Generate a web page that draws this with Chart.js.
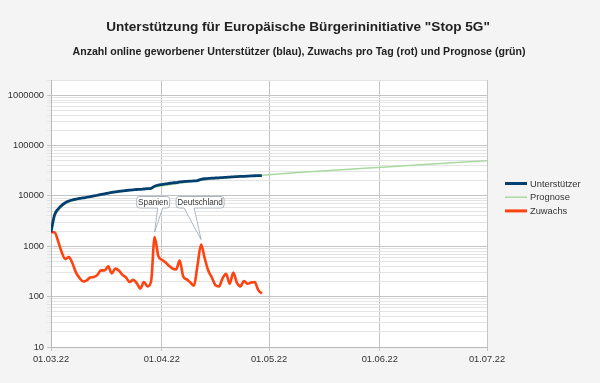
<!DOCTYPE html>
<html><head><meta charset="utf-8">
<script src="https://cdn.jsdelivr.net/npm/chart.js@4/dist/chart.umd.min.js"></script>
<style>html,body{margin:0;padding:0;background:#f4f4f4;}#wrap{width:600px;height:383px;position:relative;}</style>
</head><body><div id="wrap"><canvas id="c" width="600" height="383"></canvas></div>
<script>
const titleText = 'Unterstützung für Europäische Bürgerininitiative "Stop 5G"';
const subtitleText = 'Anzahl online geworbener Unterstützer (blau), Zuwachs pro Tag (rot) und Prognose (grün)';
const seriesNames = ['Unterstützer', 'Prognose', 'Zuwachs'];
const tickDays = [0, 31, 61, 92, 122];
const tickLabels = ['01.03.22', '01.04.22', '01.05.22', '01.06.22', '01.07.22'];
const days = [0,1,2,3,4,5,6,7,8,9,10,11,12,13,14,15,16,17,18,19,20,21,22,23,24,25,26,27,28,29,30,31,32,33,34,35,36,37,38,39,40,41,42,43,44,45,46,47,48,49,50,51,52,53,54,55,56,57,58,59];
const unterstuetzer = [1900,4200,5500,6500,7300,7900,8300,8600,8900,9100,9400,9700,10000,10300,10700,11000,11400,11700,12000,12300,12600,12800,13000,13200,13400,13500,13700,13900,14100,15600,16300,16800,17300,17700,18100,18400,18900,19200,19400,19600,19800,20200,21300,21900,22200,22500,22700,22900,23100,23400,23600,23900,24100,24300,24500,24700,24900,25100,25200,25300];
const zuwachs = [1900,1900,1250,760,560,610,460,300,235,200,210,240,245,270,335,330,400,290,360,330,270,240,195,215,185,145,195,160,200,1530,650,540,480,410,360,345,520,250,220,190,165,420,1080,580,330,240,170,160,230,285,180,300,190,160,205,180,190,195,135,115];
const prognoseDays = [1,3,7,14,21,28,35,42,50,59,70,80,90,100,110,122];
const prognose = [4000,6200,8400,10500,12500,14500,17500,20500,23300,25800,29400,32600,36100,40000,44400,50100];
const annotationLabels = ['Spanien', 'Deutschland'];
const annotationDays = [29, 42];

const yMin = 10, yMax = 2000000;
const colBlue = '#03406f', colGreen = '#a9d9a0', colRed = '#ff420e';
const FONT = '"Liberation Sans", Arial, sans-serif';

const pts = (xs, ys) => xs.map((x, i) => ({x: x, y: ys[i]}));

const bgPlugin = {
  id: 'bg',
  beforeDraw(chart) {
    const ctx = chart.ctx, a = chart.chartArea;
    ctx.save();
    ctx.fillStyle = '#f4f4f4';
    ctx.fillRect(0, 0, chart.width, chart.height);
    ctx.fillStyle = '#ffffff';
    ctx.fillRect(a.left, a.top, a.right - a.left, a.bottom - a.top);
    ctx.restore();
  }
};

const decoPlugin = {
  id: 'deco',
  afterDraw(chart) {
    const ctx = chart.ctx;
    ctx.save();
    ctx.fillStyle = '#222';
    ctx.textAlign = 'center';
    ctx.textBaseline = 'middle';
    ctx.font = 'bold 13.6px ' + FONT;
    ctx.fillText(titleText, 298, 27);
    ctx.font = 'bold 10.6px ' + FONT;
    ctx.fillText(subtitleText, 299, 52);

    // legend
    const legendCols = [colBlue, colGreen, colRed];
    const legendW = [3, 1.5, 3];
    ctx.textAlign = 'left';
    ctx.font = '9.3px ' + FONT;
    seriesNames.forEach((n, i) => {
      const y = 183.5 + i * 13.7;
      ctx.strokeStyle = legendCols[i];
      ctx.lineWidth = legendW[i];
      ctx.beginPath();
      ctx.moveTo(505, y);
      ctx.lineTo(527, y);
      ctx.stroke();
      ctx.fillStyle = '#333';
      ctx.fillText(n, 530, y + 0.5);
    });

    // callouts
    const xs = chart.scales.x, ys = chart.scales.y;
    const boxDefs = [{dl: -18, dr: 15, w1: 3, w2: 8}, {dl: -25, dr: 23, w1: -17, w2: -7}];
    ctx.font = '8.2px ' + FONT;
    annotationLabels.forEach((lab, i) => {
      const d = annotationDays[i];
      const tx = xs.getPixelForValue(d);
      const ty = ys.getPixelForValue(zuwachs[d]) - 5;
      const top = 196.5, bot = 208, r = 3;
      const l = tx + boxDefs[i].dl, rt = tx + boxDefs[i].dr;
      const w1 = tx + boxDefs[i].w1, w2 = tx + boxDefs[i].w2;
      ctx.beginPath();
      ctx.moveTo(l + r, top);
      ctx.lineTo(rt - r, top);
      ctx.quadraticCurveTo(rt, top, rt, top + r);
      ctx.lineTo(rt, bot - r);
      ctx.quadraticCurveTo(rt, bot, rt - r, bot);
      ctx.lineTo(w2, bot);
      ctx.lineTo(tx, ty);
      ctx.lineTo(w1, bot);
      ctx.lineTo(l + r, bot);
      ctx.quadraticCurveTo(l, bot, l, bot - r);
      ctx.lineTo(l, top + r);
      ctx.quadraticCurveTo(l, top, l + r, top);
      ctx.closePath();
      ctx.fillStyle = '#ffffff';
      ctx.fill();
      ctx.strokeStyle = '#9aa6b2';
      ctx.lineWidth = 0.8;
      ctx.stroke();
      ctx.fillStyle = '#333';
      ctx.textAlign = 'center';
      ctx.fillText(lab, (l + rt) / 2, (top + bot) / 2 + 0.5);
    });
    ctx.restore();
  }
};

const isMajor = v => Math.abs(Math.log10(v) - Math.round(Math.log10(v))) < 1e-9;

new Chart(document.getElementById('c'), {
  type: 'line',
  data: {
    datasets: [
      {label: seriesNames[0], data: pts(days, unterstuetzer), borderColor: colBlue, borderWidth: 2.8, pointRadius: 0, cubicInterpolationMode: 'monotone'},
      {label: seriesNames[2], data: pts(days, zuwachs), borderColor: colRed, borderWidth: 2.6, pointRadius: 0, cubicInterpolationMode: 'monotone'},
      {label: seriesNames[1], data: pts(prognoseDays, prognose), borderColor: colGreen, borderWidth: 1.5, pointRadius: 0, cubicInterpolationMode: 'monotone'}
    ]
  },
  options: {
    responsive: false,
    animation: false,
    devicePixelRatio: 1,
    layout: {padding: {top: 80, right: 113, left: 0, bottom: 0}},
    plugins: {legend: {display: false}, title: {display: false}, tooltip: {enabled: false}},
    scales: {
      x: {
        type: 'linear', min: 0, max: 122,
        afterBuildTicks: s => { s.ticks = tickDays.map(v => ({value: v})); },
        afterFit: s => { s.height = 36; },
        ticks: {
          autoSkip: false, maxRotation: 0, padding: 3,
          color: '#333', font: {family: FONT, size: 9.3},
          callback: v => tickLabels[tickDays.indexOf(v)]
        },
        grid: {color: '#c4c4c4', tickLength: 4, lineWidth: 1},
        border: {color: '#b8b8b8'}
      },
      y: {
        type: 'logarithmic', min: yMin, max: yMax,
        afterBuildTicks: s => {
          const t = [];
          for (let e = 1; e <= 6; e++) {
            for (let m = 1; m <= 9; m++) {
              const v = m * Math.pow(10, e);
              if (v <= yMax) t.push({value: v, major: m === 1});
            }
          }
          t.push({value: yMax});
          s.ticks = t;
        },
        afterFit: s => { s.width = 51; },
        ticks: {
          autoSkip: false, padding: 3,
          color: '#333', font: {family: FONT, size: 9.3},
          callback: v => (isMajor(v) ? String(v) : '')
        },
        grid: {
          color: c => (c.tick && isMajor(c.tick.value) ? '#c4c4c4' : '#e4e4e4'),
          tickLength: 4, lineWidth: 1
        },
        border: {color: '#b8b8b8'}
      }
    }
  },
  plugins: [bgPlugin, decoPlugin]
});
</script>
</body></html>
